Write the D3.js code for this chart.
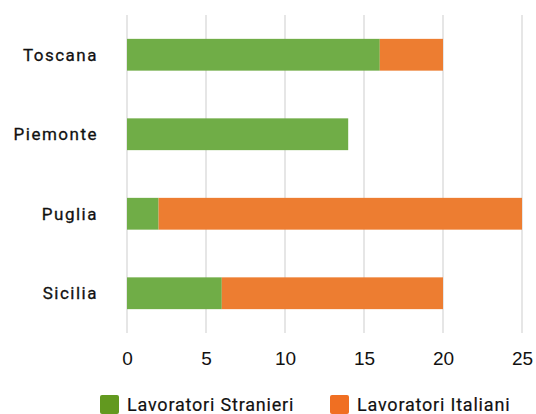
<!DOCTYPE html>
<html>
<head>
<meta charset="utf-8">
<script src="https://cdn.jsdelivr.net/npm/d3@7"></script>
<style>
  html, body { margin: 0; padding: 0; background: #fff; }
  svg { display: block; }
</style>
</head>
<body>
<svg id="chart" width="536" height="414"></svg>
<script>
// Regions, top to bottom
const regions = ["Toscana", "Piemonte", "Puglia", "Sicilia"];
// Workers per region
const stranieri = [16, 14, 2, 6];
const italiani = [4, 0, 23, 14];
const seriesNames = ["Lavoratori Stranieri", "Lavoratori Italiani"];
const tickValues = [0, 5, 10, 15, 20, 25];

const barColors = ["#70ad47", "#ed7d31"];
const swatchColors = ["#62991f", "#f06f22"];

const svg = d3.select("#chart");
const margin = { left: 127, right: 14, top: 15, bottom: 81 };
const W = 536, H = 414;

const x = d3.scaleLinear().domain([0, 25]).range([margin.left, W - margin.right]);
const y = d3.scaleBand().domain(regions).range([margin.top, H - margin.bottom]).paddingInner(0.6).paddingOuter(0.3);

// gridlines
svg.append("g").selectAll("line").data(tickValues).join("line")
  .attr("x1", d => x(d)).attr("x2", d => x(d))
  .attr("y1", margin.top).attr("y2", H - margin.bottom)
  .attr("stroke", "#d9d9d9").attr("stroke-width", 1.3);

// stacked bars
const rows = regions.map((r, i) => ({ region: r, s: stranieri[i], it: italiani[i] }));
const stack = d3.stack().keys(["s", "it"])(rows);
svg.append("g").selectAll("g").data(stack).join("g")
  .attr("fill", (d, i) => barColors[i])
  .selectAll("rect").data(d => d).join("rect")
  .attr("x", d => x(d[0]))
  .attr("width", d => x(d[1]) - x(d[0]))
  .attr("y", d => y(d.data.region))
  .attr("height", y.bandwidth());

// category labels
svg.append("g").selectAll("text").data(regions).join("text")
  .attr("x", 98).attr("y", d => y(d) + y.bandwidth() / 2)
  .attr("text-anchor", "end").attr("dominant-baseline", "central")
  .attr("font-family", "Roboto").attr("font-weight", 400)
  .attr("font-size", 17).attr("letter-spacing", 1.5)
  .attr("fill", "#111").attr("stroke", "#111").attr("stroke-width", 0.3)
  .text(d => d);

// x axis tick labels
const xAxis = d3.axisBottom(x).tickValues(tickValues).tickSize(0).tickPadding(0);
const ax = svg.append("g").attr("transform", `translate(0, 351)`).call(xAxis);
ax.select(".domain").remove();
ax.selectAll("text")
  .attr("font-family", "Liberation Sans, Arial, sans-serif")
  .attr("font-size", 19).attr("fill", "#111").attr("dy", "0.71em");

// legend
const legendX = [100, 330];
const lg = svg.append("g").selectAll("g").data(seriesNames).join("g")
  .attr("transform", (d, i) => `translate(${legendX[i]}, 395)`);
lg.append("rect").attr("width", 19).attr("height", 19).attr("rx", 2)
  .attr("fill", (d, i) => swatchColors[i]);
lg.append("text").attr("x", 27).attr("y", 16)
  .attr("font-family", "Roboto").attr("font-weight", 400)
  .attr("font-size", 18).attr("letter-spacing", 0.8)
  .attr("fill", "#111").attr("stroke", "#111").attr("stroke-width", 0.2)
  .text(d => d);
</script>
</body>
</html>
